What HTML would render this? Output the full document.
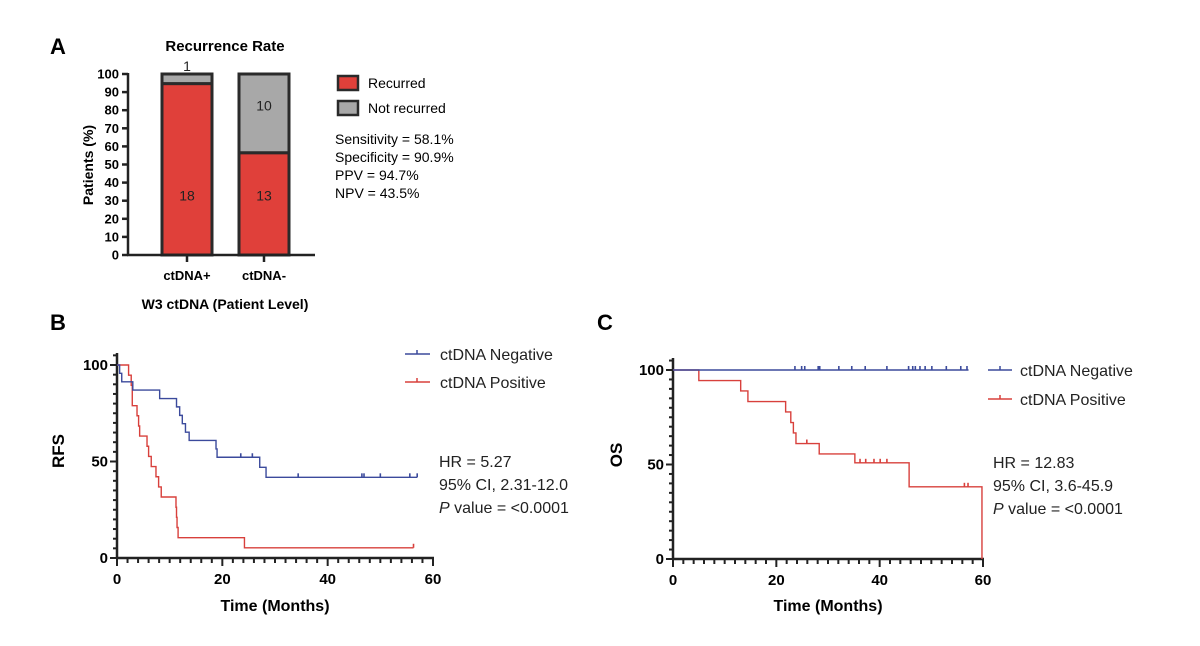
<!DOCTYPE html>
<html><head><meta charset="utf-8"><style>
body{margin:0;background:#fff;}
svg{display:block;font-family:"Liberation Sans",Arial,sans-serif;}
</style></head><body>
<svg id="fig" width="1200" height="646" viewBox="0 0 1200 646" xmlns="http://www.w3.org/2000/svg">
<text x="50" y="54" font-size="22" font-weight="bold">A</text>
<text x="50" y="330" font-size="22" font-weight="bold">B</text>
<text x="597" y="330" font-size="22" font-weight="bold">C</text>
<text x="225" y="51" font-size="15" font-weight="bold" text-anchor="middle">Recurrence Rate</text>
<text x="93" y="165" font-size="14" font-weight="bold" text-anchor="middle" transform="rotate(-90 93 165)">Patients (%)</text>
<text x="225" y="309" font-size="14" font-weight="bold" text-anchor="middle">W3 ctDNA (Patient Level)</text>
<rect x="338" y="76" width="20" height="14" fill="#e0403a" stroke="#2a2a2a" stroke-width="2.5"/>
<text x="368" y="88" font-size="14">Recurred</text>
<rect x="338" y="101" width="20" height="14" fill="#a8a8a8" stroke="#2a2a2a" stroke-width="2.5"/>
<text x="368" y="113" font-size="14">Not recurred</text>
<g font-size="14">
<text x="335" y="144">Sensitivity = 58.1%</text>
<text x="335" y="162">Specificity = 90.9%</text>
<text x="335" y="180">PPV = 94.7%</text>
<text x="335" y="198">NPV = 43.5%</text>
</g>
<g id="a"></g><g id="b"></g><g id="c"></g>
<text x="64" y="451" font-size="17" font-weight="bold" text-anchor="middle" transform="rotate(-90 64 451)">RFS</text>
<text x="275" y="611" font-size="16" font-weight="bold" text-anchor="middle">Time (Months)</text>
<text x="622" y="455" font-size="17" font-weight="bold" text-anchor="middle" transform="rotate(-90 622 455)">OS</text>
<text x="828" y="611" font-size="16" font-weight="bold" text-anchor="middle">Time (Months)</text>
<g font-size="16" fill="#222">
<line x1="405" y1="354" x2="430" y2="354" stroke="#3b4a9c" stroke-width="1.5"/><line x1="417" y1="350" x2="417" y2="354" stroke="#3b4a9c" stroke-width="1.5"/>
<text x="440" y="360">ctDNA Negative</text>
<line x1="405" y1="382" x2="430" y2="382" stroke="#d8403c" stroke-width="1.5"/><line x1="417" y1="378" x2="417" y2="382" stroke="#d8403c" stroke-width="1.5"/>
<text x="440" y="388">ctDNA Positive</text>
<text x="439" y="467">HR = 5.27</text>
<text x="439" y="490">95% CI, 2.31-12.0</text>
<text x="439" y="513"><tspan font-style="italic">P</tspan> value = &lt;0.0001</text>
<line x1="988" y1="370" x2="1012" y2="370" stroke="#3b4a9c" stroke-width="1.5"/><line x1="1000" y1="366" x2="1000" y2="370" stroke="#3b4a9c" stroke-width="1.5"/>
<text x="1020" y="376">ctDNA Negative</text>
<line x1="988" y1="399" x2="1012" y2="399" stroke="#d8403c" stroke-width="1.5"/><line x1="1000" y1="395" x2="1000" y2="399" stroke="#d8403c" stroke-width="1.5"/>
<text x="1020" y="405">ctDNA Positive</text>
<text x="993" y="468">HR = 12.83</text>
<text x="993" y="491">95% CI, 3.6-45.9</text>
<text x="993" y="514"><tspan font-style="italic">P</tspan> value = &lt;0.0001</text>
</g>
</svg>
<script>
const NS="http://www.w3.org/2000/svg";
function mk(p,tag,at){const e=document.createElementNS(NS,tag);for(const k in at)e.setAttribute(k,at[k]);p.appendChild(e);return e;}
// Panel A data
const barCats=["ctDNA+","ctDNA-"];
const recurredPct=[94.7,56.5];
const notRecurredPct=[5.3,43.5];
const recurredN=["18","13"];
const notRecurredN=["1","10"];
const aTicks=[0,10,20,30,40,50,60,70,80,90,100];
// Panel B data
const bNegTimes=[0,0.5,0.9,3,8.1,11.3,11.9,12.4,13,13.7,18.8,19,27.1,28.3,57];
const bNegSurv=[100,95.7,91.3,87,82.6,78.3,73.9,69.6,65.2,60.9,56.5,52.2,47,41.8,41.8];
const bNegCensT=[23.5,25.7,34.4,46.5,46.9,50,55.6,57];
const bNegCensS=[52.2,52.2,41.8,41.8,41.8,41.8,41.8,41.8];
const bPosTimes=[0,2.2,2.7,2.9,3.8,4.1,4.3,5.7,6.0,6.5,7.4,7.9,8.4,11.2,11.3,11.4,11.6,24.2,56.3];
const bPosSurv=[100,94.7,89.5,78.9,73.7,68.4,63.2,57.9,52.6,47.4,42.1,36.8,31.6,26.3,21.1,15.8,10.5,5.3,5.3];
const bPosCensT=[56.3];
const bPosCensS=[5.3];
// Panel C data
const cNegTimes=[0,57.2];
const cNegSurv=[100,100];
const cNegCensT=[23.6,24.9,25.5,28.1,28.4,32.1,34.6,37.2,41.4,45.6,46.4,46.9,47.8,48.8,50.1,52.9,55.7,56.9];
const cNegCensS=[100,100,100,100,100,100,100,100,100,100,100,100,100,100,100,100,100,100];
const cPosTimes=[0,5,13.1,14.5,21.8,22.8,23.3,23.8,28.3,35.2,45.7,59.8];
const cPosSurv=[100,94.4,88.9,83.3,77.8,72.2,66.7,61.1,55.6,50.9,38.2,0];
const cPosCensT=[25.9,36.2,37.3,38.9,40.1,41.4,56.4,57.1];
const cPosCensS=[61.1,50.9,50.9,50.9,50.9,50.9,38.2,38.2];
const kmXTicks=[0,20,40,60];
const kmYTicks=[0,50,100];

// Panel A
(function(){
 const g=document.getElementById('a');
 const y0=255,y1=74,ax=128;
 const ys=v=>y0-(y0-y1)*v/100;
 const bx=[162,239],bw=50;
 barCats.forEach((c,i)=>{
  const r=mk(g,'rect',{x:bx[i],y:ys(recurredPct[i]),width:bw,height:y0-ys(recurredPct[i]),fill:'#e0403a',stroke:'#2a2a2a','stroke-width':3});
  
  
  const t=recurredPct[i]+notRecurredPct[i];
  const n=mk(g,'rect',{x:bx[i],y:ys(t),width:bw,height:ys(recurredPct[i])-ys(t),fill:'#a8a8a8',stroke:'#2a2a2a','stroke-width':3});
  
  
  const l=mk(g,'text',{x:bx[i]+bw/2,y:ys(Math.min(33,recurredPct[i]*0.6))+5,'font-size':14,'text-anchor':'middle',fill:'#222'});l.textContent=recurredN[i];
  
  
  const small=notRecurredPct[i]<10;
  const l2=mk(g,'text',{x:bx[i]+bw/2,y:small?ys(t)-3:ys(t-notRecurredPct[i]*0.4)+5,'font-size':14,'text-anchor':'middle',fill:'#222'});l2.textContent=notRecurredN[i];
  
  
  mk(g,'line',{x1:bx[i]+bw/2,x2:bx[i]+bw/2,y1:y0,y2:y0+7,stroke:'#222','stroke-width':2.5});
  const cl=mk(g,'text',{x:bx[i]+bw/2,y:y0+25,'font-size':13,'font-weight':'bold','text-anchor':'middle'});cl.textContent=c;
  
  
 });
 mk(g,'line',{x1:ax,x2:ax,y1:y1-1,y2:y0+1,stroke:'#222','stroke-width':2.5});
 mk(g,'line',{x1:ax-1,x2:315,y1:y0,y2:y0,stroke:'#222','stroke-width':2.5});
 aTicks.forEach(v=>{
  mk(g,'line',{x1:ax-6,x2:ax,y1:ys(v),y2:ys(v),stroke:'#222','stroke-width':2.5});
  const t=mk(g,'text',{x:ax-9,y:ys(v)+4.5,'font-size':13,'font-weight':'bold','text-anchor':'end'});t.textContent=v;
  
  
 });
})();

function km(id,ox,x60,yt,yb,series){
 const g=document.getElementById(id);
 const xs=v=>ox+(x60-ox)*v/60, ys=v=>yb-(yb-yt)*v/100;
 mk(g,'line',{x1:ox,x2:ox,y1:yt-12,y2:yb+1,stroke:'#222','stroke-width':2.5});
 mk(g,'line',{x1:ox-1,x2:x60+1,y1:yb,y2:yb,stroke:'#222','stroke-width':2.5});
 for(let m=0;m<=60;m+=2){const maj=m%20==0;mk(g,'line',{x1:xs(m),x2:xs(m),y1:yb,y2:yb+(maj?8:5),stroke:'#222','stroke-width':2});}
 for(let p=0;p<=105;p+=5){const maj=p%50==0;mk(g,'line',{x1:ox-(maj?7:4),x2:ox,y1:ys(p),y2:ys(p),stroke:'#222','stroke-width':2});}
 kmXTicks.forEach(v=>{const t=mk(g,'text',{x:xs(v),y:yb+26,'font-size':15,'font-weight':'bold','text-anchor':'middle'});t.textContent=v;
  
  });
 kmYTicks.forEach(v=>{const t=mk(g,'text',{x:ox-9,y:ys(v)+5,'font-size':15,'font-weight':'bold','text-anchor':'end'});t.textContent=v;
  
  });
 series.forEach(s=>{
  let d='M'+xs(s.t[0])+' '+ys(s.s[0]);
  for(let i=1;i<s.t.length;i++){d+=' H'+xs(s.t[i])+' V'+ys(s.s[i]);}
  const p=mk(g,'path',{d:d,fill:'none',stroke:s.c,'stroke-width':1.4});
  
  
  s.ct.forEach((t,i)=>{const l=mk(g,'line',{x1:xs(t),x2:xs(t),y1:ys(s.cs[i])-4,y2:ys(s.cs[i]),stroke:s.c,'stroke-width':1.6});
   
   });
 });
}
km('b',117,433,365,558,[
 {t:bPosTimes,s:bPosSurv,ct:bPosCensT,cs:bPosCensS,c:'#d8403c',n:'rfs-positive-curve'},
 {t:bNegTimes,s:bNegSurv,ct:bNegCensT,cs:bNegCensS,c:'#3b4a9c',n:'rfs-negative-curve'}]);
km('c',673,983,370,559,[
 {t:cPosTimes,s:cPosSurv,ct:cPosCensT,cs:cPosCensS,c:'#d8403c',n:'os-positive-curve'},
 {t:cNegTimes,s:cNegSurv,ct:cNegCensT,cs:cNegCensS,c:'#3b4a9c',n:'os-negative-curve'}]);
</script>
</body></html>
